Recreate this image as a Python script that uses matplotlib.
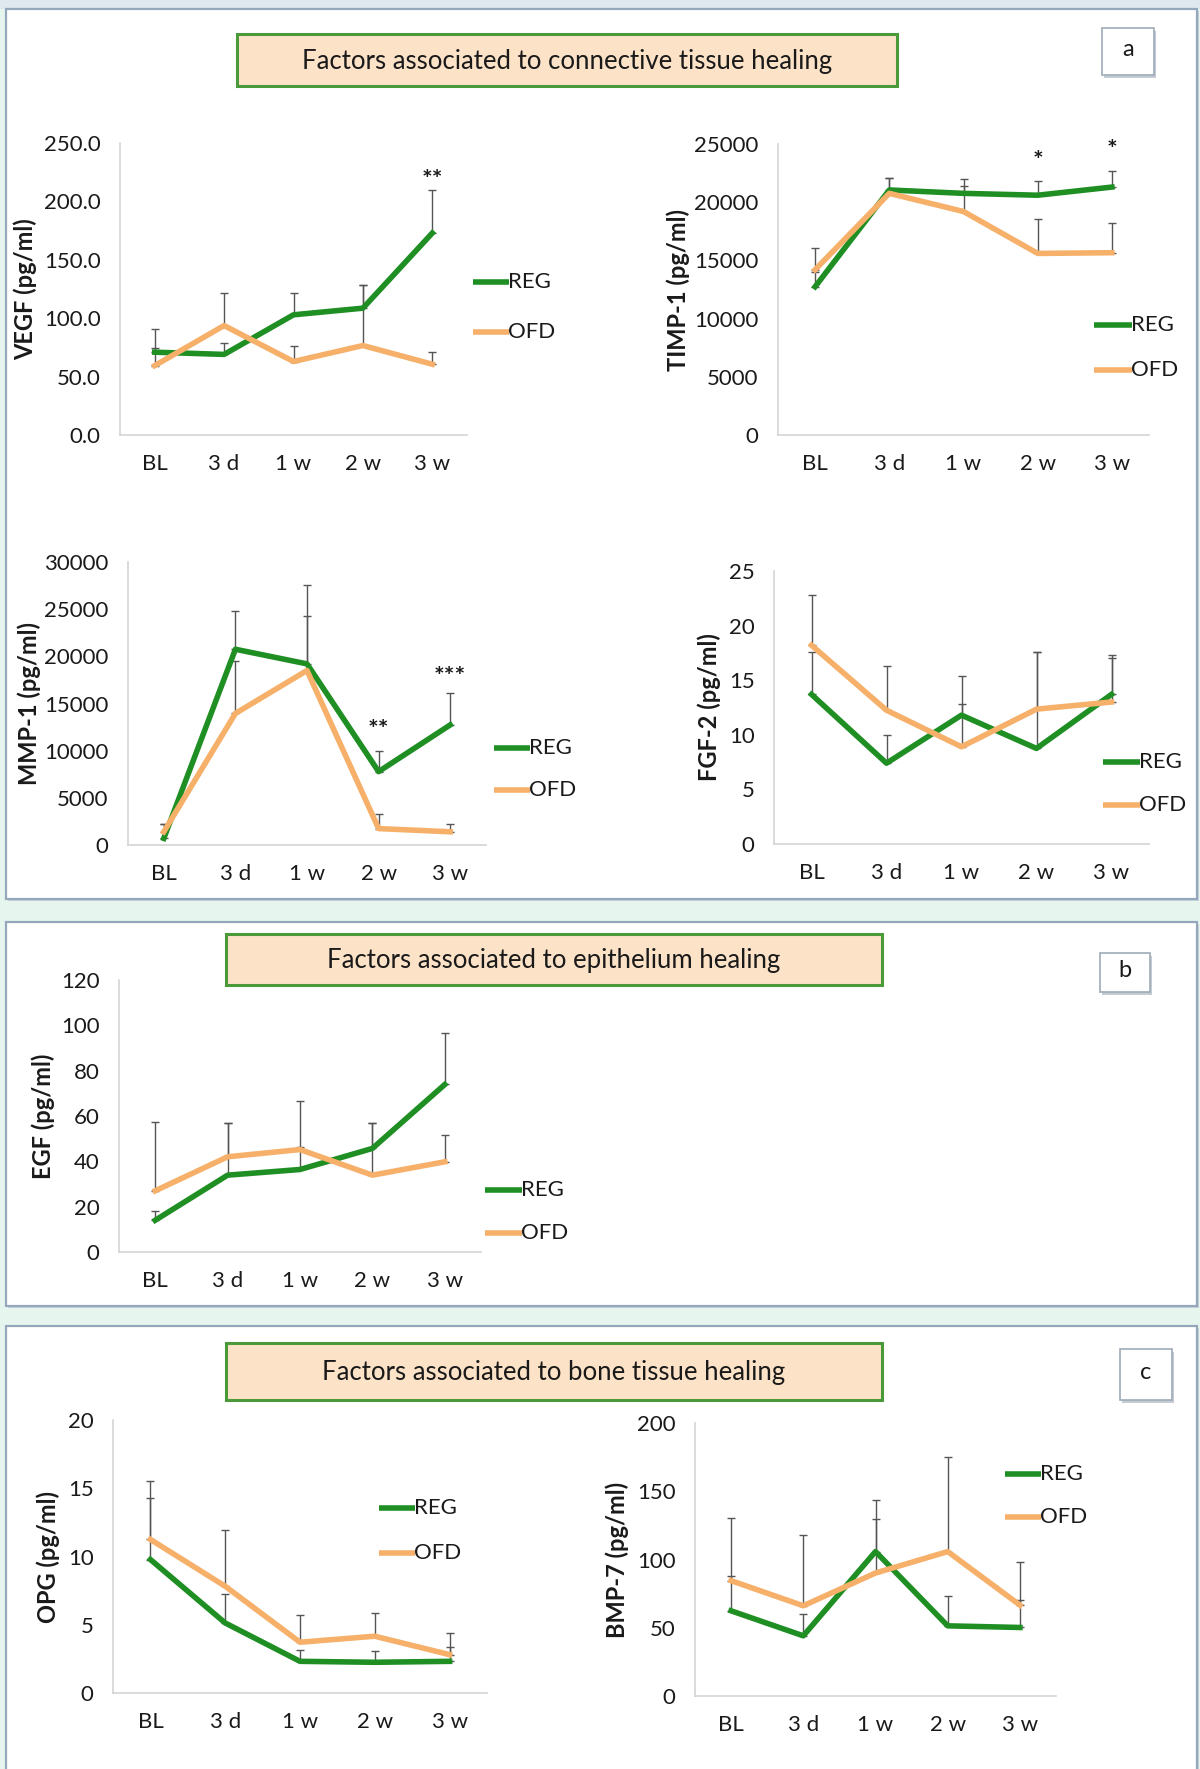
import numpy as np
import matplotlib
matplotlib.use("Agg")
import matplotlib.pyplot as plt
from matplotlib.patches import Rectangle

plt.rcParams['font.family'] = ['Lato', 'DejaVu Sans']

W, H = 1200, 1769
GREEN = '#1f8f24'
ORANGE = '#f6b06a'
TXT = '#1a1a1a'

# time points on every chart
timepoints = ['BL', '3 d', '1 w', '2 w', '3 w']

# VEGF (pg/ml)
vegf_reg = [70.9, 69.0, 102.9, 108.6, 172.9]
vegf_reg_err = [4.0, 10.1, 18.5, 19.4, 37.1]
vegf_ofd = [59.4, 93.7, 62.9, 76.6, 60.6]
vegf_ofd_err = [31.2, 27.7, 13.7, 51.4, 10.3]
vegf_stars = [(4, 218, '**')]

# TIMP-1 (pg/ml)
timp_reg = [12740, 21050, 20760, 20600, 21300]
timp_reg_err = [1290, 1050, 600, 1250, 1400]
timp_ofd = [14200, 20760, 19200, 15600, 15660]
timp_ofd_err = [1840, 1340, 2760, 2960, 2520]
timp_stars = [(3, 23500, '*'), (4, 24400, '*')]

# MMP-1 (pg/ml)
mmp_reg = [700, 20750, 19200, 7780, 12730]
mmp_reg_err = [1570, 4020, 5040, 2160, 3370]
mmp_ofd = [1400, 13950, 18500, 1740, 1400]
mmp_ofd_err = [870, 5580, 9050, 1570, 800]
mmp_stars = [(3, 12100, '**'), (4, 17800, '***')]

# FGF-2 (pg/ml)
fgf_reg = [13.7, 7.4, 11.8, 8.75, 13.7]
fgf_reg_err = [3.9, 2.6, 3.6, 8.85, 3.6]
fgf_ofd = [18.2, 12.25, 8.9, 12.35, 13.0]
fgf_ofd_err = [4.6, 4.05, 3.9, 5.25, 4.0]

# EGF (pg/ml)
egf_reg = [14.0, 33.9, 36.4, 45.7, 73.9]
egf_reg_err = [4.1, 22.8, 10.0, 11.0, 22.9]
egf_ofd = [27.0, 42.0, 45.2, 33.9, 39.8]
egf_ofd_err = [30.4, 14.7, 21.4, 22.8, 12.0]

# OPG (pg/ml)
opg_reg = [9.78, 5.13, 2.32, 2.25, 2.32]
opg_reg_err = [4.5, 2.1, 0.8, 0.8, 1.05]
opg_ofd = [11.25, 7.82, 3.72, 4.16, 2.81]
opg_ofd_err = [4.3, 4.1, 2.0, 1.7, 1.6]

# BMP-7 (pg/ml)
bmp_reg = [62.4, 44.1, 105.8, 51.4, 50.2]
bmp_reg_err = [25.7, 15.9, 37.9, 22.0, 20.1]
bmp_ofd = [84.5, 66.1, 90.1, 105.8, 66.6]
bmp_ofd_err = [45.7, 52.0, 39.6, 69.2, 31.8]

fig = plt.figure(figsize=(W / 100, H / 100), dpi=100)
fig.patch.set_facecolor('#e6f6ee')

# pixel-space background axes for panels, boxes, labels and legends
bg = fig.add_axes([0, 0, 1, 1])
bg.set_xlim(0, W)
bg.set_ylim(H, 0)
bg.axis('off')
bg.add_patch(Rectangle((0, 0), W, 9, fc='#dfe8ef', ec='none'))


def panel(x0, y0, x1, y1):
    bg.add_patch(Rectangle((x0 + 2, y0 + 2), x1 - x0, y1 - y0, fc='#c8d2dc', ec='none'))
    bg.add_patch(Rectangle((x0, y0), x1 - x0, y1 - y0, fc='white', ec='#95a7bb', lw=1.6))


def title_box(x0, y0, x1, y1, text):
    bg.add_patch(Rectangle((x0, y0), x1 - x0, y1 - y0, fc='#fce2c7', ec='#4a9a3a', lw=2.2))
    bg.text((x0 + x1) / 2, (y0 + y1) / 2 + 1, text, ha='center', va='center',
            fontsize=18.5, color=TXT)


def letter_box(x0, y0, x1, y1, letter):
    bg.add_patch(Rectangle((x0 + 2, y0 + 3), x1 - x0, y1 - y0, fc='#c5ccd4', ec='none'))
    bg.add_patch(Rectangle((x0, y0), x1 - x0, y1 - y0, fc='white', ec='#9eabb8', lw=1.2))
    bg.text((x0 + x1) / 2, (y0 + y1) / 2 - 2, letter, ha='center', va='center',
            fontsize=17, color=TXT)


def legend(lx0, lx1, y_reg, y_ofd):
    for y, col, name in [(y_reg, GREEN, 'REG'), (y_ofd, ORANGE, 'OFD')]:
        bg.plot([lx0, lx1], [y, y], color=col, lw=4, solid_capstyle='butt')
        bg.text(lx1 - 1, y, name, ha='left', va='center', fontsize=16, color=TXT)


def chart(box, reg, reg_err, ofd, ofd_err, ymax, ystep, ylabel, ylab_x, leg,
          stars=(), fmt='{:.0f}'):
    x0, y0, x1, y1 = box
    ax = fig.add_axes([x0 / W, 1 - y1 / H, (x1 - x0) / W, (y1 - y0) / H])
    ax.patch.set_alpha(0)
    x = np.arange(len(timepoints))
    zeros = np.zeros(len(x))
    for vals, err in [(reg, reg_err), (ofd, ofd_err)]:
        ax.errorbar(x, vals, yerr=[zeros, err], fmt='none', ecolor='#555555',
                    elinewidth=1, capsize=3, capthick=1, zorder=1)
    ax.plot(x, reg, color=GREEN, lw=4, zorder=3)
    ax.plot(x, ofd, color=ORANGE, lw=4, zorder=4)
    for i, v, s in stars:
        ax.text(i, v, s, ha='center', va='center', fontsize=18, fontweight='bold',
                color=TXT)
    ax.set_xlim(-0.5, len(x) - 0.5)
    ax.set_ylim(0, ymax)
    ax.set_xticks(x, timepoints)
    yt = np.arange(0, ymax + ystep / 2, ystep)
    ax.set_yticks(yt, [fmt.format(v) for v in yt])
    ax.tick_params(length=0, labelsize=16, colors=TXT)
    ax.tick_params(axis='y', pad=14)
    ax.tick_params(axis='x', pad=14)
    for s in ['top', 'right']:
        ax.spines[s].set_visible(False)
    for s in ['left', 'bottom']:
        ax.spines[s].set_color('#d4d4d4')
        ax.spines[s].set_linewidth(1.2)
    bg.text(ylab_x, (y0 + y1) / 2, ylabel, rotation=90, ha='center', va='center',
            fontsize=17, fontweight='bold', color=TXT)
    legend(*leg)
    return ax


# panels
panel(6, 9, 1197, 899)
panel(6, 922, 1197, 1306)
panel(6, 1326, 1197, 1790)

title_box(237, 34, 897, 86, 'Factors associated to connective tissue healing')
title_box(226, 934, 882, 985, 'Factors associated to epithelium healing')
title_box(226, 1343, 882, 1400, 'Factors associated to bone tissue healing')

letter_box(1102, 28, 1154, 75, 'a')
letter_box(1100, 953, 1150, 992, 'b')
letter_box(1120, 1349, 1172, 1400, 'c')

chart((120, 143, 467, 435), vegf_reg, vegf_reg_err, vegf_ofd, vegf_ofd_err,
      250, 50, 'VEGF (pg/ml)', 25, (473, 509, 282, 332), vegf_stars, fmt='{:.1f}')
chart((778, 144, 1149, 435), timp_reg, timp_reg_err, timp_ofd, timp_ofd_err,
      25000, 5000, 'TIMP-1 (pg/ml)', 678, (1094, 1132, 325, 370), timp_stars)
chart((128, 562, 486, 845), mmp_reg, mmp_reg_err, mmp_ofd, mmp_ofd_err,
      30000, 5000, 'MMP-1 (pg/ml)', 29, (494, 530, 748, 790), mmp_stars)
chart((774, 571, 1149, 844), fgf_reg, fgf_reg_err, fgf_ofd, fgf_ofd_err,
      25, 5, 'FGF-2 (pg/ml)', 709, (1103, 1140, 762, 805))
chart((119, 980, 481, 1252), egf_reg, egf_reg_err, egf_ofd, egf_ofd_err,
      120, 20, 'EGF (pg/ml)', 43, (485, 522, 1190, 1233))
chart((113, 1420, 487, 1693), opg_reg, opg_reg_err, opg_ofd, opg_ofd_err,
      20, 5, 'OPG (pg/ml)', 48, (379, 415, 1508, 1553))
chart((695, 1423, 1056, 1696), bmp_reg, bmp_reg_err, bmp_ofd, bmp_ofd_err,
      200, 50, 'BMP-7 (pg/ml)', 617, (1005, 1041, 1474, 1517))

fig.savefig('out.png', dpi=100)
